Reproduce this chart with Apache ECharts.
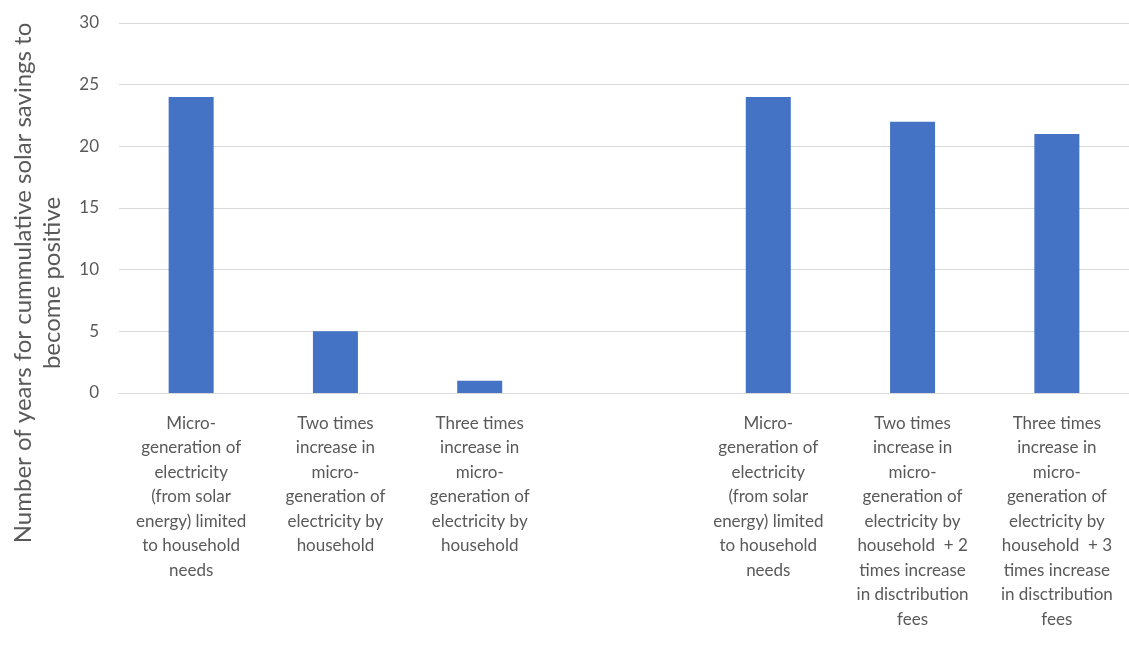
<!DOCTYPE html>
<html>
<head>
<meta charset="utf-8">
<script src="https://cdn.jsdelivr.net/npm/echarts@6/dist/echarts.min.js"></script>
<style>
  html, body { margin: 0; padding: 0; background: #ffffff; }
  #chart { width: 1129px; height: 654px; }
</style>
</head>
<body>
<div id="chart"></div>
<script>
// Scenario labels (blank slot separates the two groups)
const categories = [
  'Micro-\ngeneration of\nelectricity\n(from solar\nenergy) limited\nto household\nneeds',
  'Two times\nincrease in\nmicro-\ngeneration of\nelectricity by\nhousehold',
  'Three times\nincrease in\nmicro-\ngeneration of\nelectricity by\nhousehold',
  '',
  'Micro-\ngeneration of\nelectricity\n(from solar\nenergy) limited\nto household\nneeds',
  'Two times\nincrease in\nmicro-\ngeneration of\nelectricity by\nhousehold  + 2\ntimes increase\nin disctribution\nfees',
  'Three times\nincrease in\nmicro-\ngeneration of\nelectricity by\nhousehold  + 3\ntimes increase\nin disctribution\nfees'
];

// Years until cumulative savings turn positive
const yearsToPositive = [24, 5, 1, null, 24, 22, 21];

const yAxisTitle = 'Number of years for cummulative solar savings to\nbecome positive';

const FONT = 'Lato, "Open Sans", sans-serif';
const TEXT = '#595959';

const chart = echarts.init(document.getElementById('chart'), null, { renderer: 'canvas' });

chart.setOption({
  backgroundColor: '#ffffff',
  animation: false,
  grid: { left: 119, top: 23, width: 1018, height: 370, containLabel: false },
  xAxis: {
    type: 'category',
    data: categories,
    axisLine: { show: true, lineStyle: { color: '#d9d9d9', width: 1 } },
    axisTick: { show: false },
    axisLabel: {
      interval: 0,
      color: TEXT,
      fontFamily: FONT,
      fontSize: 17,
      lineHeight: 24.5,
      margin: 18,
      align: 'center'
    }
  },
  yAxis: {
    type: 'value',
    min: 0,
    max: 30,
    interval: 5,
    axisLine: { show: false },
    axisTick: { show: false },
    splitLine: { lineStyle: { color: '#d9d9d9', width: 1 } },
    axisLabel: { color: TEXT, fontFamily: FONT, fontSize: 17, margin: 20 }
  },
  series: [{
    type: 'bar',
    data: yearsToPositive,
    barWidth: 45,
    itemStyle: { color: '#4472C4' }
  }],
  graphic: [{
    type: 'text',
    x: 38,
    y: 283,
    rotation: Math.PI / 2,
    style: {
      text: yAxisTitle,
      fill: TEXT,
      font: '24px ' + FONT,
      align: 'center',
      verticalAlign: 'middle',
      lineHeight: 29
    }
  }]
});
</script>
</body>
</html>
